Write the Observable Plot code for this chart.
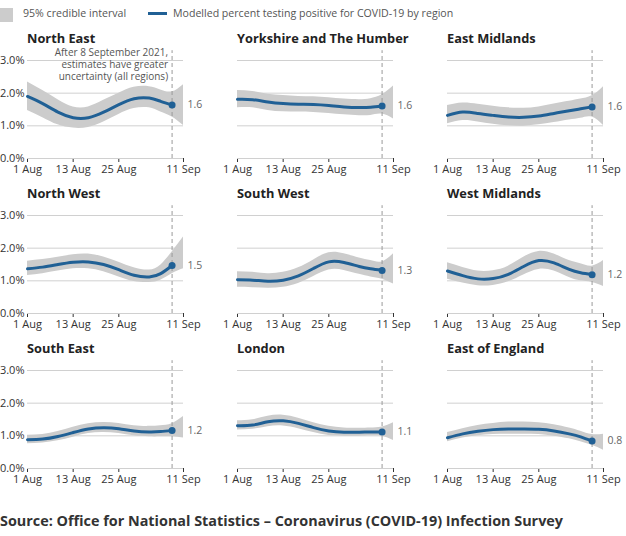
<!DOCTYPE html>
<html><head><meta charset="utf-8">
<script src="https://cdn.jsdelivr.net/npm/d3@7"></script>
<script src="https://cdn.jsdelivr.net/npm/@observablehq/plot@0.6"></script>
<style>
body{margin:0;font-family:"Open Sans",sans-serif;background:#fff;overflow:hidden;width:626px;height:536px;position:relative}
#legend{position:relative;height:27px;font-size:10.6px;color:#555}
#legend .sw{position:absolute;left:0;top:8px;width:13px;height:14px;background:#cccccc}
#legend .t1{position:absolute;left:23px;top:4px;line-height:18px}
#legend .ln{position:absolute;left:148px;top:12px;width:19px;height:3px;background:#206095}
#legend .t2{position:absolute;left:173px;top:4px;line-height:18px}
#grid{display:flex;flex-wrap:wrap;width:626px}
.panel{position:relative;height:155px}
.panel .title{position:absolute;left:27px;top:0;line-height:22px;font-weight:700;font-size:12.8px;color:#222;white-space:nowrap}
.panel svg{display:block;overflow:visible}
#source{position:absolute;left:0;top:511px;font-size:14.4px;font-weight:700;color:#333;line-height:20px;white-space:nowrap}
</style></head><body>
<div id="legend"><div class="sw"></div><div class="t1">95% credible interval</div><div class="ln"></div><div class="t2">Modelled percent testing positive for COVID-19 by region</div></div>
<div id="grid"></div>
<div id="source">Source: Office for National Statistics – Coronavirus (COVID-19) Infection Survey</div>
<script>
const regions = ["North East","Yorkshire and The Humber","East Midlands","North West","South West","West Midlands","South East","London","East of England"];
const dates = ["2021-08-01","2021-08-05","2021-08-09","2021-08-13","2021-08-17","2021-08-21","2021-08-25","2021-08-29","2021-09-02","2021-09-05","2021-09-08","2021-09-11"];
const startDate = "2021-08-01";
const endDate = "2021-09-11";
const cutoffDate = "2021-09-08";
const xTicks = ["2021-08-01","2021-08-13","2021-08-25","2021-09-11"];
const yTicks = [0,1,2,3];
const annotation = "After 8 September 2021,\nestimates have greater\nuncertainty (all regions)";

// modelled percent testing positive (to 8 Sep)
const central = [
  [1.90,1.68,1.42,1.25,1.25,1.42,1.65,1.83,1.85,1.75,1.64],
  [1.81,1.80,1.73,1.68,1.66,1.65,1.62,1.58,1.56,1.57,1.61],
  [1.32,1.42,1.38,1.32,1.27,1.26,1.30,1.38,1.46,1.52,1.58],
  [1.37,1.42,1.50,1.57,1.58,1.50,1.34,1.17,1.12,1.22,1.47],
  [1.03,1.02,0.99,1.02,1.15,1.38,1.58,1.56,1.44,1.37,1.32],
  [1.30,1.16,1.06,1.07,1.20,1.44,1.62,1.55,1.35,1.25,1.19],
  [0.88,0.90,0.98,1.10,1.21,1.25,1.22,1.15,1.12,1.13,1.16],
  [1.31,1.33,1.43,1.46,1.38,1.25,1.15,1.11,1.11,1.12,1.12],
  [0.94,1.06,1.14,1.19,1.21,1.21,1.20,1.15,1.06,0.97,0.84]
];
// 95% credible interval lower bound (to 11 Sep)
const lower = [
  [1.47,1.25,1.03,0.93,0.95,1.12,1.35,1.53,1.55,1.42,1.27,1.01],
  [1.55,1.55,1.47,1.43,1.42,1.41,1.38,1.34,1.31,1.32,1.36,1.21],
  [1.06,1.16,1.12,1.05,1.00,0.99,1.03,1.10,1.18,1.23,1.27,1.01],
  [1.16,1.22,1.30,1.37,1.37,1.28,1.12,0.98,0.95,1.02,1.22,1.37],
  [0.80,0.79,0.77,0.80,0.92,1.13,1.33,1.32,1.20,1.12,1.05,0.90],
  [1.05,0.93,0.85,0.86,0.97,1.18,1.35,1.30,1.10,1.00,0.95,0.83],
  [0.76,0.78,0.85,0.96,1.07,1.10,1.07,1.00,0.97,0.97,0.97,0.93],
  [1.18,1.20,1.28,1.30,1.22,1.10,1.01,0.99,0.99,1.00,0.99,0.86],
  [0.82,0.93,1.00,1.04,1.05,1.05,1.04,0.99,0.91,0.82,0.71,0.56]
];
// 95% credible interval upper bound (to 11 Sep)
const upper = [
  [2.34,2.08,1.80,1.58,1.58,1.78,2.00,2.18,2.20,2.10,2.04,2.26],
  [2.08,2.05,1.97,1.93,1.90,1.89,1.86,1.82,1.80,1.83,1.95,2.22],
  [1.62,1.70,1.66,1.60,1.55,1.54,1.58,1.67,1.75,1.82,1.92,2.20],
  [1.60,1.65,1.72,1.80,1.82,1.73,1.57,1.40,1.33,1.48,1.88,2.34],
  [1.28,1.26,1.22,1.26,1.40,1.64,1.86,1.83,1.70,1.62,1.58,1.83],
  [1.55,1.41,1.30,1.31,1.45,1.72,1.90,1.82,1.62,1.52,1.45,1.62],
  [1.02,1.04,1.13,1.26,1.37,1.41,1.38,1.31,1.29,1.31,1.37,1.59],
  [1.46,1.49,1.60,1.63,1.54,1.40,1.29,1.24,1.23,1.24,1.27,1.40],
  [1.10,1.22,1.32,1.38,1.42,1.42,1.40,1.34,1.24,1.14,1.04,1.05]
];

const grid = document.getElementById("grid");
const colWidths = [210,210,206];
const fmtDate = d3.utcFormat("%-d %b");

regions.forEach((name, i) => {
  const col = i % 3;
  const w = colWidths[col];
  const rows = dates.map((d, j) => ({date: new Date(d), lo: lower[i][j], hi: upper[i][j], v: j < central[i].length ? central[i][j] : null}));
  const lineRows = rows.filter(r => r.v != null);
  const last = lineRows[lineRows.length - 1];
  const marks = [
    Plot.gridY(yTicks, {stroke: "#d0d0d0", strokeOpacity: 1}),
    Plot.areaY(rows, {x: "date", y1: "lo", y2: "hi", fill: "#cccccc", curve: "natural"}),
    Plot.ruleX([new Date(cutoffDate)], {y1: 0, y2: 3.3, stroke: "#999", strokeDasharray: "4,3"}),
    Plot.lineY(lineRows, {x: "date", y: "v", stroke: "#206095", strokeWidth: 3, curve: "natural"}),
    Plot.dot([last], {x: "date", y: "v", r: 3.5, fill: "#206095"}),
    Plot.text([last], {x: () => new Date(endDate), y: "v", text: d => d.v.toFixed(1), dx: 4, textAnchor: "start", fill: "#666", fontSize: 10.5})
  ];
  if (i === 0) {
    marks.push(Plot.text([annotation], {x: () => new Date(cutoffDate), y: () => 2.88, text: d => d, dx: -4, textAnchor: "end", lineAnchor: "middle", lineHeight: 1.17, fontSize: 10, fill: "#555"}));
  }
  const svg = Plot.plot({
    width: w, height: 155,
    marginLeft: 27, marginRight: w - 183, marginTop: 33, marginBottom: 24,
    style: {fontFamily: "'Open Sans', sans-serif", fontSize: "11px", color: "#333", overflow: "visible", background: "transparent"},
    x: {type: "utc", domain: [new Date(startDate), new Date(endDate)], ticks: xTicks.map(d => new Date(d)), tickFormat: fmtDate, tickSize: 4, tickPadding: 3, label: null},
    y: {domain: [0, 3], ticks: yTicks, tickFormat: d => d.toFixed(1) + "%", tickSize: 0, tickPadding: 3, label: null, axis: col === 0 ? "left" : null},
    marks
  });
  const div = document.createElement("div");
  div.className = "panel";
  div.style.width = w + "px";
  const t = document.createElement("div");
  t.className = "title";
  t.textContent = name;
  div.appendChild(svg);
  div.appendChild(t);
  grid.appendChild(div);
});
</script>
</body></html>
